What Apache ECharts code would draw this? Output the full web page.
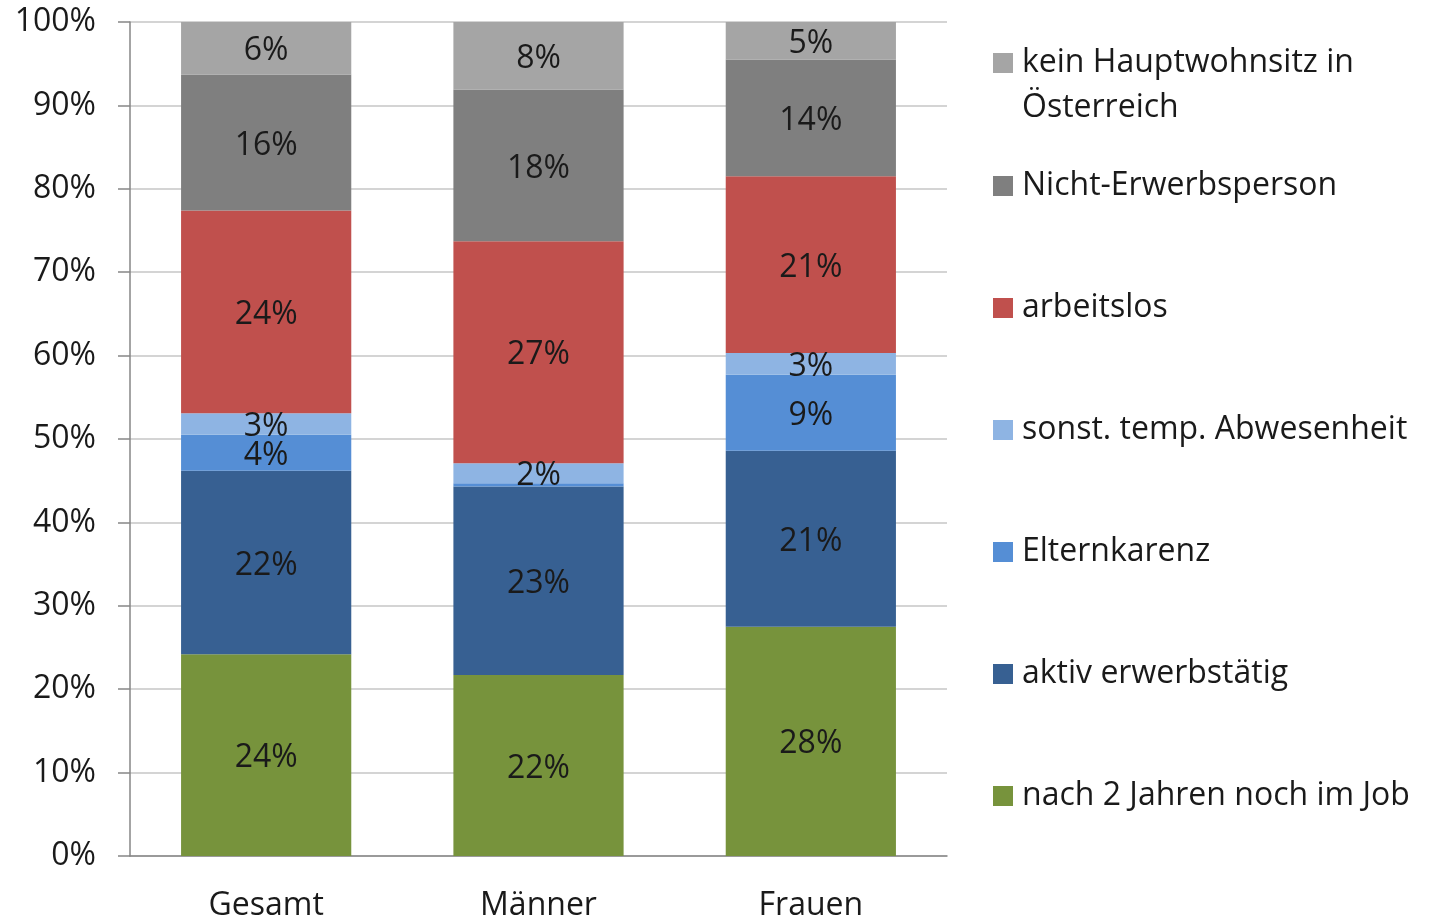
<!DOCTYPE html>
<html>
<head>
<meta charset="utf-8">
<title>Verbleib nach 2 Jahren</title>
<script src="https://cdn.jsdelivr.net/npm/echarts@6/dist/echarts.min.js"></script>
<style>
  html, body { margin: 0; padding: 0; background: #fff; }
  #main { width: 1435px; height: 920px; }
</style>
</head>
<body>
<div id="main"></div>
<script>
// Kategorien
const categories = ['Gesamt', 'Männer', 'Frauen'];

// Anteile in % (von unten nach oben gestapelt)
const nachJob      = [24.2, 21.7, 27.5];
const aktiv        = [22.0, 22.6, 21.1];
const elternkarenz = [4.3, 0.4, 9.1];
const sonstAbw     = [2.6, 2.4, 2.6];
const arbeitslos   = [24.3, 26.6, 21.2];
const nichtErwerb  = [16.3, 18.2, 14.0];
const keinHWS      = [6.3, 8.1, 4.5];

const seriesNames = [
  'nach 2 Jahren noch im Job',
  'aktiv erwerbstätig',
  'Elternkarenz',
  'sonst. temp. Abwesenheit',
  'arbeitslos',
  'Nicht-Erwerbsperson',
  'kein Hauptwohnsitz in Österreich'
];
const seriesData = [nachJob, aktiv, elternkarenz, sonstAbw, arbeitslos, nichtErwerb, keinHWS];
const colors = ['#77933C', '#376092', '#558ED5', '#8EB4E3', '#C0504D', '#7F7F7F', '#A5A5A5'];

const font = 'Open Sans';
const fsize = 32;

// Legende: oberster Eintrag zuerst, jeweils eigene Position (Mittelpunkt y)
const legendCenters = [63, 186, 308, 430, 552, 674, 796];
const legendOrder = seriesNames.slice().reverse();
const legends = legendOrder.map(function (name, i) {
  const multi = i === 0;
  const lh = multi ? 45 : 40;
  const h = multi ? lh * 3 : lh;
  return {
    orient: 'vertical',
    left: 993,
    top: legendCenters[i] - h / 2,
    padding: 0,
    icon: 'rect',
    itemWidth: 20,
    itemHeight: 20,
    selectedMode: false,
    data: [name],
    formatter: function (n) {
      if (multi) return '\n' + n.replace(' Österreich', '\nÖsterreich');
      return n;
    },
    textStyle: {
      fontFamily: font,
      fontSize: fsize,
      color: '#1a1a1a',
      lineHeight: lh,
      padding: [0, 0, 0, 4]
    }
  };
});

const chart = echarts.init(document.getElementById('main'));

chart.setOption({
  animation: false,
  color: colors,
  legend: legends,
  grid: {
    left: 130,
    right: 488,
    top: 22,
    bottom: 64,
    outerBoundsMode: 'none'
  },
  xAxis: {
    type: 'category',
    data: categories,
    axisLine: { lineStyle: { color: '#868686', width: 1.5 } },
    axisTick: { length: 12, lineStyle: { color: '#868686', width: 1.5 } },
    axisLabel: {
      fontFamily: font,
      fontSize: fsize,
      color: '#1a1a1a',
      margin: 34
    }
  },
  yAxis: {
    type: 'value',
    min: 0,
    max: 100,
    interval: 10,
    axisLine: { show: true, lineStyle: { color: '#868686', width: 1.5 } },
    axisTick: { show: true, length: 12, lineStyle: { color: '#868686', width: 1.5 } },
    splitLine: { lineStyle: { color: '#C6C6C6', width: 1.5 } },
    axisLabel: {
      formatter: '{value}%',
      fontFamily: font,
      fontSize: fsize,
      color: '#1a1a1a',
      margin: 34
    }
  },
  series: seriesData.map(function (d, i) {
    return {
      name: seriesNames[i],
      type: 'bar',
      stack: 'total',
      barWidth: '62.5%',
      data: d,
      label: {
        show: true,
        position: 'inside',
        offset: [0, 3],
        fontFamily: font,
        fontSize: fsize,
        color: '#1a1a1a',
        formatter: function (p) {
          return p.value < 1 ? '' : Math.round(p.value) + '%';
        }
      }
    };
  })
});
</script>
</body>
</html>
